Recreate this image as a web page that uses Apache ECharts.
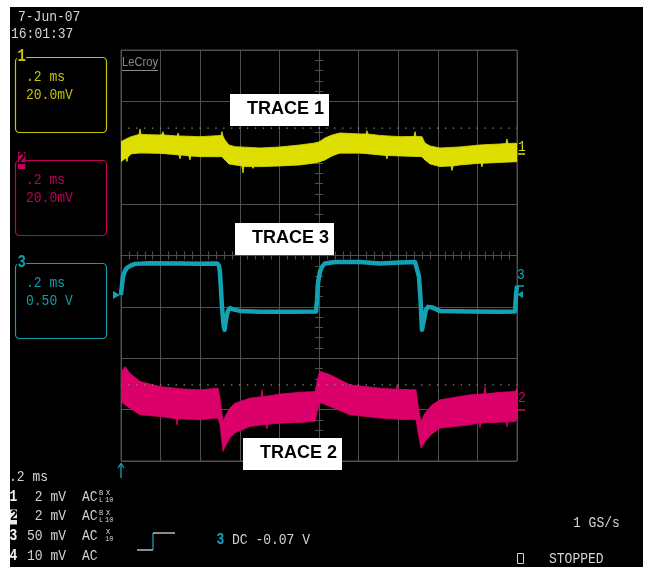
<!DOCTYPE html>
<html>
<head>
<meta charset="utf-8">
<script src="https://cdn.jsdelivr.net/npm/echarts@6/dist/echarts.min.js"></script>
<style>
html,body{margin:0;padding:0;background:#ffffff;}
#bg{position:absolute;left:10px;top:7px;width:633px;height:560px;background:#000;}
#c{position:absolute;left:0;top:0;width:646px;height:567px;}
</style>
</head>
<body>
<div id="bg"></div>
<div id="c"></div>
<script>
// Horizontal: time in ms relative to screen centre (0.2 ms/div, 10 div).
// Vertical: amplitude in screen divisions (8 div).
const timeTicksMin = -1, timeTicksMax = 1, timeInterval = 0.2;
const divMin = -4, divMax = 4, divInterval = 1;

// TRACE 1 (channel 1, yellow) - noisy band: upper and lower edges [time ms, div]
const trace1UpperEdge = [[-1.000,2.216],[-0.975,2.268],[-0.949,2.313],[-0.909,2.356],[-0.904,2.463],[-0.899,2.356],[-0.803,2.346],[-0.793,2.356],[-0.788,2.411],[-0.783,2.346],[-0.717,2.327],[-0.712,2.385],[-0.707,2.327],[-0.601,2.313],[-0.495,2.337],[-0.490,2.411],[-0.485,2.327],[-0.475,2.249],[-0.455,2.152],[-0.424,2.119],[-0.298,2.093],[-0.197,2.113],[-0.096,2.152],[-0.020,2.191],[0,2.210],[0.030,2.288],[0.066,2.346],[0.106,2.385],[0.207,2.366],[0.237,2.366],[0.242,2.430],[0.247,2.366],[0.308,2.337],[0.409,2.313],[0.480,2.317],[0.485,2.411],[0.490,2.317],[0.520,2.313],[0.535,2.191],[0.561,2.132],[0.611,2.093],[0.712,2.113],[0.813,2.152],[0.914,2.171],[0.944,2.181],[0.949,2.268],[0.955,2.181],[1.000,2.185]];
const trace1LowerEdge = [[-1.000,1.827],[-0.975,1.899],[-0.970,1.827],[-0.965,1.918],[-0.949,1.977],[-0.904,2.002],[-0.803,1.990],[-0.707,1.957],[-0.702,1.879],[-0.697,1.957],[-0.657,1.938],[-0.652,1.860],[-0.646,1.938],[-0.601,1.924],[-0.490,1.924],[-0.475,1.860],[-0.455,1.782],[-0.424,1.763],[-0.389,1.743],[-0.384,1.607],[-0.379,1.733],[-0.338,1.730],[-0.333,1.695],[-0.328,1.730],[-0.298,1.730],[-0.197,1.743],[-0.096,1.763],[-0.020,1.802],[0,1.821],[0.030,1.860],[0.066,1.938],[0.106,1.996],[0.207,1.996],[0.308,1.957],[0.338,1.947],[0.343,1.879],[0.348,1.947],[0.409,1.938],[0.520,1.924],[0.535,1.860],[0.561,1.782],[0.611,1.730],[0.667,1.743],[0.672,1.652],[0.677,1.743],[0.712,1.763],[0.813,1.796],[0.818,1.796],[0.823,1.724],[0.828,1.796],[0.914,1.811],[1.000,1.827]];

// TRACE 3 (channel 3, cyan) - square wave
const trace3Time  = [-1.0,-0.995,-0.990,-0.980,-0.970,-0.949,-0.929,-0.854,-0.702,-0.601,-0.515,-0.505,-0.500,-0.490,-0.482,-0.477,-0.470,-0.460,-0.449,-0.434,-0.399,-0.298,-0.146,-0.015,-0.010,-0.005,0.005,0.015,0.030,0.081,0.207,0.308,0.409,0.485,0.495,0.505,0.513,0.520,0.530,0.540,0.551,0.571,0.611,0.763,0.914,0.990,0.995,1.0];
const trace3Value = [-0.767,-0.572,-0.411,-0.300,-0.241,-0.193,-0.163,-0.150,-0.154,-0.163,-0.154,-0.202,-0.339,-0.994,-1.350,-1.447,-1.253,-1.078,-1.025,-1.049,-1.078,-1.097,-1.097,-1.091,-0.864,-0.533,-0.313,-0.222,-0.154,-0.125,-0.125,-0.154,-0.134,-0.125,-0.163,-0.411,-0.864,-1.447,-1.253,-1.058,-1.000,-1.010,-1.078,-1.088,-1.097,-1.088,-0.767,-0.591];

// TRACE 2 (channel 2, magenta) - noisy band: upper and lower edges [time ms, div]
const trace2UpperEdge = [[-1.000,-2.323],[-0.990,-2.226],[-0.980,-2.161],[-0.955,-2.290],[-0.904,-2.453],[-0.803,-2.551],[-0.702,-2.595],[-0.601,-2.615],[-0.510,-2.582],[-0.500,-2.776],[-0.485,-3.232],[-0.470,-3.101],[-0.449,-2.965],[-0.424,-2.874],[-0.348,-2.776],[-0.293,-2.751],[-0.288,-2.615],[-0.283,-2.751],[-0.197,-2.698],[-0.096,-2.663],[-0.020,-2.648],[-0.010,-2.459],[0,-2.284],[0.010,-2.259],[0.056,-2.323],[0.157,-2.518],[0.308,-2.582],[0.389,-2.605],[0.394,-2.518],[0.399,-2.605],[0.409,-2.605],[0.490,-2.615],[0.505,-3.037],[0.515,-3.232],[0.535,-3.068],[0.571,-2.907],[0.611,-2.809],[0.763,-2.712],[0.833,-2.693],[0.838,-2.551],[0.843,-2.693],[0.914,-2.663],[0.990,-2.648],[1.000,-2.576]];
const trace2LowerEdge = [[-1.000,-2.907],[-0.990,-2.868],[-0.980,-2.907],[-0.955,-2.971],[-0.904,-3.101],[-0.803,-3.134],[-0.722,-3.179],[-0.717,-3.296],[-0.712,-3.179],[-0.702,-3.179],[-0.601,-3.198],[-0.510,-3.165],[-0.500,-3.296],[-0.485,-3.815],[-0.470,-3.685],[-0.449,-3.549],[-0.424,-3.451],[-0.348,-3.329],[-0.268,-3.286],[-0.263,-3.374],[-0.258,-3.286],[-0.197,-3.263],[-0.096,-3.247],[-0.020,-3.232],[-0.010,-3.043],[0,-2.907],[0.010,-2.868],[0.056,-2.940],[0.157,-3.101],[0.308,-3.165],[0.409,-3.189],[0.490,-3.198],[0.505,-3.549],[0.515,-3.749],[0.535,-3.621],[0.571,-3.471],[0.611,-3.360],[0.763,-3.296],[0.808,-3.257],[0.813,-3.354],[0.818,-3.257],[0.914,-3.247],[0.944,-3.237],[0.949,-3.335],[0.955,-3.237],[0.990,-3.232],[1.000,-3.198]];

// Reference (ground) levels, in divisions
const trace1Ref = 2.48;
const trace2Ref = -2.52;

// Texts
const dateText = '7-Jun-07', timeText = '16:01:37';
const chBoxes = [
  {label:'1', line1:'.2 ms', line2:'20.0mV'},
  {label:'2', line1:'.2 ms', line2:'20.0mV'},
  {label:'3', line1:'.2 ms', line2:'0.50 V'}
];
const bottomRows = [
  {ch:'1', val:' 2 mV', cpl:'AC', sup:'B', sub:'L'},
  {ch:'2', val:' 2 mV', cpl:'AC', sup:'B', sub:'L'},
  {ch:'3', val:'50 mV', cpl:'AC', sup:'', sub:''},
  {ch:'4', val:'10 mV', cpl:'AC', sup:null, sub:null}
];
const traceLabels = ['TRACE 1','TRACE 3','TRACE 2'];

const YEL = '#dede00', MAG = '#dc006a', CYA = '#12a2b4';
const YEL_T = '#c8c400', MAG_T = '#c0005c', CYA_T = '#149cac';
const GRID = '#4f4f4f', TXT = '#d4d4d4';

const chart = echarts.init(document.getElementById('c'), null, {renderer:'canvas'});

function band(name, upperEdge, lowerEdge, color) {
  return {
    type:'custom', name, clip:true, silent:true,
    data:[upperEdge[0]],
    renderItem(params, api) {
      const pts = [];
      for (let i = 0; i < upperEdge.length; i++) pts.push(api.coord(upperEdge[i]));
      for (let i = lowerEdge.length - 1; i >= 0; i--) pts.push(api.coord(lowerEdge[i]));
      return {type:'polygon', shape:{points:pts}, style:{fill:color, stroke:color, lineWidth:0.8}};
    }
  };
}
function refLine(level) {
  return {
    type:'line', silent:true, showSymbol:false, data:[[timeTicksMin, level],[timeTicksMax, level]],
    lineStyle:{color:'#8a8a8a', width:1.3, type:[1.3, 6.62], dashOffset:0.8}
  };
}

const mono = (text, x, y, color, size) => ({
  type:'text', x, y, scaleY:1.15, z:50,
  style:{text, fill:color, font:(size||13)+'px "Liberation Mono", "DejaVu Sans Mono", monospace', verticalAlign:'middle', align:'left'}
});

const g = [];
g.push(mono(dateText, 18, 17, TXT));
g.push(mono(timeText, 11, 34, TXT));

// channel boxes
const boxTops = [57, 160, 263];
const boxCols = [YEL_T, MAG_T, CYA_T];
chBoxes.forEach((b, i) => {
  const t = boxTops[i], c = boxCols[i];
  g.push({type:'rect', z:40, shape:{x:15.5, y:t+0.5, width:91, height:75, r:4}, style:{fill:null, stroke:c, lineWidth:1.2}});
  if (i === 1) {
    g.push({type:'rect', z:45, shape:{x:18, y:t-8, width:7.5, height:17}, style:{fill:c}});
    g.push({type:'text', x:17.5, y:t, z:50, scaleY:1.25, style:{text:b.label, fill:'#000', font:'bold 14px "Liberation Mono", monospace', verticalAlign:'middle'}});
  } else {
    g.push({type:'rect', z:45, shape:{x:17, y:t-8, width:9, height:16}, style:{fill:'#000'}});
    g.push({type:'text', x:17.5, y:t-1, z:50, scaleY:1.35, style:{text:b.label, fill:c, font:'bold 14px "Liberation Mono", monospace', verticalAlign:'middle'}});
  }
  g.push(mono(b.line1, 26, t + 20, c));
  g.push(mono(b.line2, 26, t + 38, c));
});

// LeCroy logo
g.push({type:'text', x:122, y:62, z:50, scaleX:0.93, scaleY:1.1, style:{text:'LeCroy', fill:'#8a8a8a', font:'12px "Liberation Sans", sans-serif', verticalAlign:'middle'}});
g.push({type:'line', z:50, shape:{x1:122, y1:70.5, x2:158, y2:70.5}, style:{stroke:'#8a8a8a', lineWidth:1}});

// trace labels
const lblBoxes = [[230,94],[235,223],[243,438]];
traceLabels.forEach((s, i) => {
  const [x, y] = lblBoxes[i];
  g.push({type:'rect', z:60, shape:{x, y, width:99, height:32}, style:{fill:'#fff'}});
  g.push({type:'text', x:x+17, y:y+15, z:61, style:{text:s, fill:'#000', font:'bold 18px "Liberation Sans", Arial, sans-serif', verticalAlign:'middle'}});
});

// right-side channel markers
g.push(mono('1', 518, 147, YEL));
g.push({type:'line', z:50, shape:{x1:518, y1:154, x2:525, y2:154}, style:{stroke:YEL, lineWidth:1.5}});
g.push(mono('3', 517, 275, CYA));
g.push({type:'line', z:50, shape:{x1:517, y1:286, x2:524, y2:286}, style:{stroke:CYA, lineWidth:1.5}});
g.push({type:'polygon', z:50, shape:{points:[[517,294.5],[523,291],[523,298]]}, style:{fill:CYA}});
g.push(mono('2', 518, 398, MAG));
g.push({type:'line', z:50, shape:{x1:518, y1:410, x2:525, y2:410}, style:{stroke:MAG, lineWidth:1.5}});
// left marker for channel 3
g.push({type:'polygon', z:50, shape:{points:[[113,291],[120,295],[113,299]]}, style:{fill:CYA}});
// trigger arrow
g.push({type:'line', z:50, shape:{x1:121, y1:464, x2:121, y2:478}, style:{stroke:CYA, lineWidth:1.3}});
g.push({type:'polyline', z:50, shape:{points:[[118,468],[121,463.5],[124,468]]}, style:{stroke:CYA, lineWidth:1.3, fill:null}});

// bottom info
g.push(mono('.2 ms', 9, 477, TXT));
const rowY = [497, 516.5, 536, 556];
bottomRows.forEach((r, i) => {
  const y = rowY[i];
  if (i === 1) {
    g.push({type:'rect', z:45, shape:{x:10, y:y-7, width:7, height:15}, style:{fill:'#e8e8e8'}});
    g.push({type:'text', x:10, y:y, z:50, scaleY:1.15, style:{text:r.ch, fill:'#000', font:'bold 13px "Liberation Mono", monospace', verticalAlign:'middle'}});
  } else {
    g.push({type:'text', x:9.5, y:y, z:50, scaleY:1.25, style:{text:r.ch, fill:'#f0f0f0', font:'bold 13px "Liberation Mono", monospace', verticalAlign:'middle'}});
  }
  g.push(mono(r.val, 27, y, TXT));
  g.push(mono(r.cpl, 82, y, TXT));
  if (r.sup !== null) {
    if (r.sup) g.push({type:'text', x:99, y:y-3.5, z:50, style:{text:r.sup, fill:TXT, font:'7px "Liberation Mono", monospace', verticalAlign:'middle'}});
    if (r.sub) g.push({type:'text', x:99, y:y+3.5, z:50, style:{text:r.sub, fill:TXT, font:'7px "Liberation Mono", monospace', verticalAlign:'middle'}});
    g.push({type:'text', x:106, y:y-3.5, z:50, style:{text:'X', fill:TXT, font:'7px "Liberation Mono", monospace', verticalAlign:'middle'}});
    g.push({type:'text', x:105, y:y+3.5, z:50, style:{text:'10', fill:TXT, font:'7px "Liberation Mono", monospace', verticalAlign:'middle'}});
  }
});
// trigger step icon
g.push({type:'polyline', z:50, shape:{points:[[137,550],[153,550]]}, style:{stroke:'#d8d8d8', lineWidth:1.3, fill:null}});
g.push({type:'line', z:50, shape:{x1:153, y1:550, x2:153, y2:533}, style:{stroke:CYA, lineWidth:1.3}});
g.push({type:'polyline', z:50, shape:{points:[[153,533],[175,533]]}, style:{stroke:'#d8d8d8', lineWidth:1.3, fill:null}});
g.push({type:'text', x:216.5, y:540, z:50, scaleY:1.25, style:{text:'3', fill:CYA, font:'bold 13px "Liberation Mono", monospace', verticalAlign:'middle'}});
g.push(mono('DC -0.07 V', 232, 540, TXT));
g.push(mono('1 GS/s', 573, 523, TXT));
g.push(mono('STOPPED', 549, 559, TXT));
g.push({type:'rect', z:50, shape:{x:517.5, y:553.5, width:6, height:10}, style:{fill:null, stroke:TXT, lineWidth:1}});

const axisCommon = {
  type:'value', axisLabel:{show:false},
  axisLine:{show:true, onZero:true, lineStyle:{color:GRID, width:1}},
  axisTick:{show:true, inside:false, length:4, lineStyle:{color:GRID}},
  minorTick:{show:true, splitNumber:5, length:4, lineStyle:{color:GRID}},
  minorSplitLine:{show:false}
};
const xA = (pos, split) => Object.assign({}, axisCommon, {position:pos, min:timeTicksMin, max:timeTicksMax, interval:timeInterval,
  splitLine:{show:split, lineStyle:{color:GRID, width:1}}});
const yA = (pos, split) => Object.assign({}, axisCommon, {position:pos, min:divMin, max:divMax, interval:divInterval,
  splitLine:{show:split, lineStyle:{color:GRID, width:1}}});

chart.setOption({
  animation:false,
  backgroundColor:'transparent',
  grid:{left:121, top:50, width:396, height:411, show:true, borderColor:GRID, borderWidth:1, backgroundColor:'transparent'},
  xAxis:[xA('bottom', true), xA('top', false)],
  yAxis:[yA('left', true), yA('right', false)],
  series:[
    refLine(trace1Ref),
    refLine(trace2Ref),
    band('TRACE 1', trace1UpperEdge, trace1LowerEdge, YEL),
    band('TRACE 2', trace2UpperEdge, trace2LowerEdge, MAG),
    {type:'line', name:'TRACE 3', showSymbol:false, silent:true, clip:true,
     data:trace3Time.map((t, i) => [t, trace3Value[i]]),
     lineStyle:{color:CYA, width:4.5, join:'round'}}
  ],
  graphic:g
});
</script>
</body>
</html>
